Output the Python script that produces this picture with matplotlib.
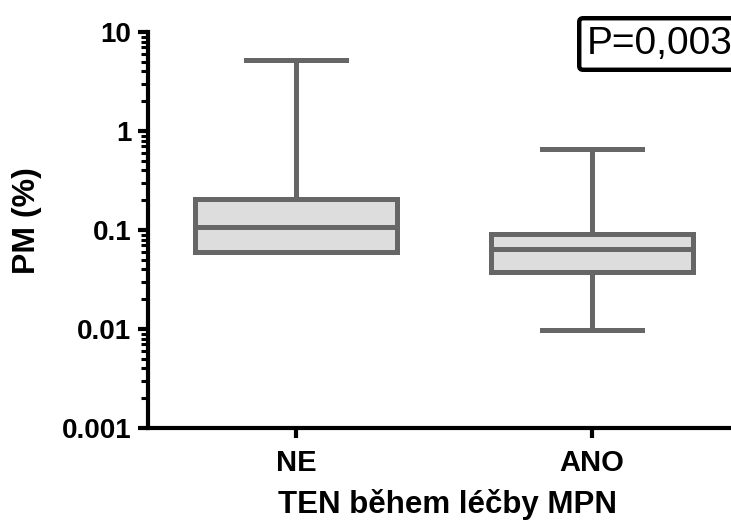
import numpy as np
import matplotlib.pyplot as plt
from matplotlib.ticker import FixedLocator, LogLocator, NullFormatter

plt.rcParams['font.family'] = ['Liberation Sans', 'DejaVu Sans']

groups = ["NE", "ANO"]
whis_low = [0.060, 0.0098]
q1 = [0.060, 0.0377]
median = [0.107, 0.064]
q3 = [0.206, 0.091]
whis_high = [5.2, 0.66]

ytick_vals = [0.001, 0.01, 0.1, 1, 10]
ytick_labels = ["0.001", "0.01", "0.1", "1", "10"]

fig = plt.figure(figsize=(7.31, 5.22), dpi=100)
ax = fig.add_axes([148 / 731, 1 - 428 / 522, (740 - 148) / 731, (428 - 32) / 522])

stats = []
for i, g in enumerate(groups):
    stats.append(dict(label=g, whislo=whis_low[i], q1=q1[i], med=median[i],
                      q3=q3[i], whishi=whis_high[i], fliers=[]))

gray = '#666666'
lw = 3.6
ax.bxp(stats, positions=[1, 2], widths=0.68, patch_artist=True,
       showfliers=False, capwidths=0.335,
       boxprops=dict(facecolor='#dddddd', edgecolor=gray, linewidth=lw),
       medianprops=dict(color=gray, linewidth=lw),
       whiskerprops=dict(color=gray, linewidth=lw),
       capprops=dict(color=gray, linewidth=lw))

ax.set_yscale('log')
ax.set_ylim(0.001, 10)
ax.set_xlim(0.5, 2.5)

ax.yaxis.set_major_locator(FixedLocator(ytick_vals))
ax.set_yticklabels(ytick_labels)
ax.yaxis.set_minor_locator(LogLocator(base=10, subs=np.arange(2, 10)))
ax.yaxis.set_minor_formatter(NullFormatter())

ax.set_xticks([1, 2])
ax.set_xticklabels(groups)

for s in ['top', 'right']:
    ax.spines[s].set_visible(False)
for s in ['left', 'bottom']:
    ax.spines[s].set_linewidth(3)
    ax.spines[s].set_color('black')

ax.tick_params(axis='y', which='major', length=7, width=3, labelsize=20, pad=5)
ax.tick_params(axis='y', which='minor', length=5, width=2.2)
ax.tick_params(axis='x', which='major', length=7, width=3, labelsize=21, pad=8)
for lab in ax.get_xticklabels() + ax.get_yticklabels():
    lab.set_fontweight('bold')

ax.set_ylabel("PM (%)", fontsize=23, fontweight='bold')
ax.yaxis.set_label_coords((42 - 148) / (740 - 148), (428 - 221) / (428 - 32))
ax.set_xlabel("TEN během léčby MPN", fontsize=22.5, fontweight='bold')
ax.xaxis.set_label_coords((447 - 148) / (740 - 148), (428 - 504) / (428 - 32))
ax.xaxis.label.set_va('center')

fig.text(587 / 731, 1 - 44 / 522, "P=0,003", fontsize=28, ha='left', va='center',
         bbox=dict(boxstyle='round,pad=0.2,rounding_size=0.1', facecolor='white',
                   edgecolor='black', linewidth=3.2))

fig.savefig('out.png', dpi=100)
